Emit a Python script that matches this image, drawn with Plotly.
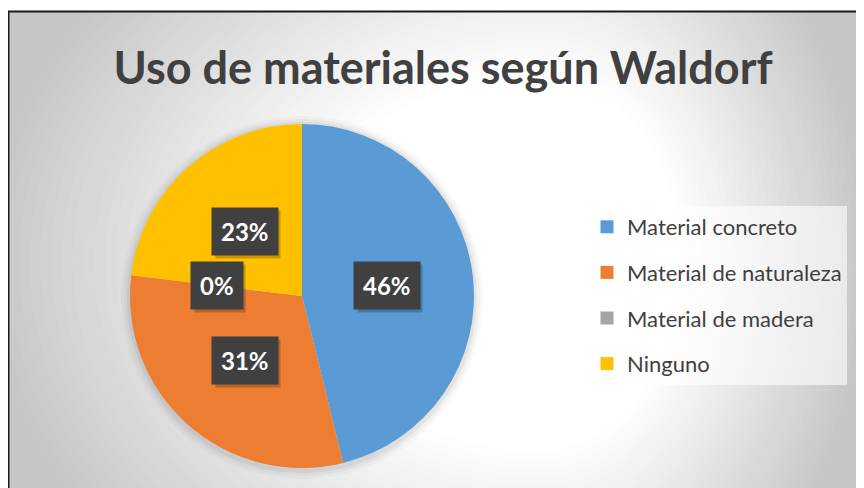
import math
import plotly.graph_objects as go

# data
labels = ["Material concreto", "Material de naturaleza", "Material de madera", "Ninguno"]
values = [6, 4, 0, 3]
colors = ["#5B9BD5", "#ED7D31", "#A5A5A5", "#FFC000"]
title = "Uso de materiales según Waldorf"

# the page has an 8px body margin, so the figure is a bit smaller than the window
OFF = 8
W, H = 864 - OFF, 488 - OFF


def px(x):
    return (x - OFF) / W


def py(y):
    return 1 - (y - OFF) / H


cx, cy, R = 302, 296, 172  # pie centre / radius (window px)

fig = go.Figure()

fig.add_trace(go.Pie(
    labels=labels, values=values, sort=False, direction="clockwise", rotation=0,
    marker=dict(colors=colors, line=dict(width=0)),
    textinfo="none", hoverinfo="label+percent", showlegend=False,
    domain=dict(x=[px(cx - R), px(cx + R)], y=[py(cy + R), py(cy - R)]),
))

# legend entries as dummy traces so the gap between items can be set
for lab, col in zip(labels, colors):
    fig.add_trace(go.Scatter(
        x=[None], y=[None], mode="markers", name=lab, legendgroup=lab,
        marker=dict(symbol="square", size=13, color=col),
    ))


def egg(gx, gy, rl, rr, ry):
    # ellipse-like closed path with different left/right radii (bezier quarters)
    k = 0.5523
    pts = [
        f"M{px(gx)},{py(gy - ry)}",
        f"C{px(gx + k * rr)},{py(gy - ry)} {px(gx + rr)},{py(gy - k * ry)} {px(gx + rr)},{py(gy)}",
        f"C{px(gx + rr)},{py(gy + k * ry)} {px(gx + k * rr)},{py(gy + ry)} {px(gx)},{py(gy + ry)}",
        f"C{px(gx - k * rl)},{py(gy + ry)} {px(gx - rl)},{py(gy + k * ry)} {px(gx - rl)},{py(gy)}",
        f"C{px(gx - rl)},{py(gy - k * ry)} {px(gx - k * rl)},{py(gy - ry)} {px(gx)},{py(gy - ry)} Z",
    ]
    return " ".join(pts)


shapes = []
# chart area fill: radial gradient built from stacked shapes
gx, gy, rl, rr, ry = 540, 262, 560, 330, 440
d0, dmax, n = 0.43, 1.2, 40
shapes.append(dict(type="rect", xref="paper", yref="paper", layer="below",
                   x0=0, x1=1, y0=0, y1=1, fillcolor="rgb(198,198,198)", line=dict(width=0)))
for i in range(n + 1):
    d = dmax - (dmax - d0) * i / n
    f = min(1.0, max(0.0, (d - d0) / (1 - d0)))
    g = int(round(255 - f * (255 - 198)))
    shapes.append(dict(type="path", xref="paper", yref="paper", layer="below",
                       path=egg(gx, gy, rl * d, rr * d, ry * d),
                       fillcolor=f"rgb({g},{g},{g})", line=dict(width=0)))
# white strip above the chart area
shapes.append(dict(type="rect", xref="paper", yref="paper", layer="below",
                   x0=0, x1=1, y0=py(11), y1=1, fillcolor="white", line=dict(width=0)))
# soft shadow round the pie
for k, a in [(9, 0.025), (6, 0.035), (3, 0.05)]:
    shapes.append(dict(type="circle", xref="paper", yref="paper", layer="below",
                       x0=px(cx - R - k), x1=px(cx + R + k),
                       y0=py(cy + R + k + 2), y1=py(cy - R - k + 1),
                       fillcolor=f"rgba(0,0,0,{a})", line=dict(width=0)))
# chart border (right and bottom edges lie outside the window)
shapes.append(dict(type="rect", xref="paper", yref="paper", layer="above",
                   x0=px(8.5), x1=1.05, y0=-0.05, y1=py(11.5),
                   fillcolor="rgba(0,0,0,0)", line=dict(color="#1a1a1a", width=2)))

# data labels, placed at the middle angle of each slice
annotations = []
total = sum(values)
cum = 0
for v in values:
    mid = (cum + v / 2) / total * 2 * math.pi
    cum += v
    lx = cx + 0.5 * R * math.sin(mid)
    ly = cy - 0.5 * R * math.cos(mid)
    pct = round(100 * v / total)
    txt = f"{pct}%"
    common = dict(xref="paper", yref="paper", x=px(lx), y=py(ly),
                  showarrow=False, borderpad=9, xanchor="center", yanchor="middle")
    # drop shadow: an empty box of the same size, offset down-right
    annotations.append(dict(common, text=" ", width=14 * len(str(pct)) + 18,
                            xshift=3, yshift=-3, bgcolor="rgba(0,0,0,0.22)",
                            font=dict(family="Lato", size=24, color="rgba(0,0,0,0)")))
    annotations.append(dict(common, text=txt, bgcolor="#404040",
                            font=dict(family="Lato", size=24, color="white", weight="bold")))

fig.update_layout(
    width=W, height=H,
    margin=dict(l=0, r=0, t=0, b=0),
    paper_bgcolor="white", plot_bgcolor="rgba(0,0,0,0)",
    title=dict(text=title, x=px(443), xanchor="center", y=py(68), yanchor="middle",
               font=dict(family="Lato", size=45, color="#404040", weight="bold")),
    xaxis=dict(visible=False), yaxis=dict(visible=False),
    legend=dict(x=px(587), y=py(206), xanchor="left", yanchor="top",
                bgcolor="rgba(255,255,255,0.6)", tracegroupgap=14,
                font=dict(family="Lato", size=22, color="#404040"),
                itemclick=False),
    shapes=shapes, annotations=annotations,
)

fig.write_html("out.html")
